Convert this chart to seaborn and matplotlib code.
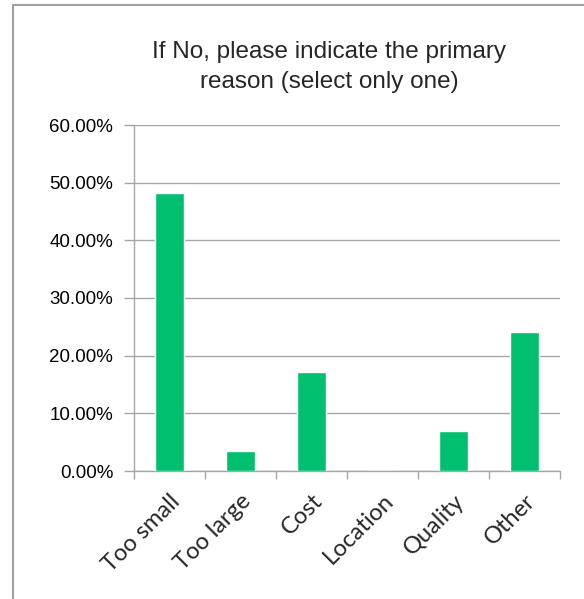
import matplotlib
matplotlib.use("Agg")
import matplotlib.pyplot as plt
from matplotlib.patches import Rectangle
from matplotlib.ticker import FuncFormatter
import pandas as pd
import seaborn as sns

# Survey answers (share of respondents)
reasons = ["Too small", "Too large", "Cost", "Location", "Quality", "Other"]
shares = [48.28, 3.45, 17.24, 0.0, 6.90, 24.14]
y_ticks = [0, 10, 20, 30, 40, 50, 60]

title = "If No, please indicate the primary\nreason (select only one)"
bar_color = "#00BF6F"
grid_color = "#A6A6A6"

df = pd.DataFrame({"Reason": reasons, "Share": shares})

sns.set_style("white")
plt.rcParams["font.family"] = ["Liberation Sans", "DejaVu Sans"]

fig = plt.figure(figsize=(5.84, 5.99), dpi=100)
ax = fig.add_axes([134 / 584, 1 - 471 / 599, 426 / 584, 346 / 599])

sns.barplot(data=df, x="Reason", y="Share", color=bar_color, width=0.4,
            saturation=1, ax=ax, zorder=3)

ax.set_ylim(0, 60)
ax.set_xlim(-0.5, len(reasons) - 0.5)
ax.set_yticks(y_ticks)
ax.yaxis.set_major_formatter(FuncFormatter(lambda v, p: f"{v:.2f}%"))
ax.yaxis.grid(True, color=grid_color, linewidth=1, zorder=0)
ax.set_axisbelow(True)
ax.set_xlabel("")
ax.set_ylabel("")

for s in ["top", "right"]:
    ax.spines[s].set_visible(False)
for s in ["left", "bottom"]:
    ax.spines[s].set_color(grid_color)
    ax.spines[s].set_linewidth(1)

ax.tick_params(axis="y", length=7, width=1, color=grid_color, labelsize=13.5,
               labelcolor="black", pad=8, left=True)
ax.set_xticks(range(len(reasons)))
ax.set_xticklabels(reasons, rotation=45, ha="right", rotation_mode="anchor",
                   fontsize=17, family=["Lato", "DejaVu Sans"])
ax.set_xticks([i - 0.5 for i in range(len(reasons) + 1)], minor=True)
ax.tick_params(axis="x", which="major", length=0, pad=14)
ax.tick_params(axis="x", which="minor", length=6, width=1, color=grid_color,
               bottom=True)

fig.text(329 / 584, 1 - 67 / 599, title, ha="center", va="center",
         fontsize=17.5, linespacing=1.5)

# chart frame (only top and left edges fall inside the image)
fig.patches.append(Rectangle((12.5 / 584, -0.1), 1.2, 1 - 5.5 / 599 + 0.1,
                             transform=fig.transFigure, fill=False,
                             edgecolor="#A0A0A0", linewidth=1.5, clip_on=False))

fig.savefig("out.png", dpi=100)
